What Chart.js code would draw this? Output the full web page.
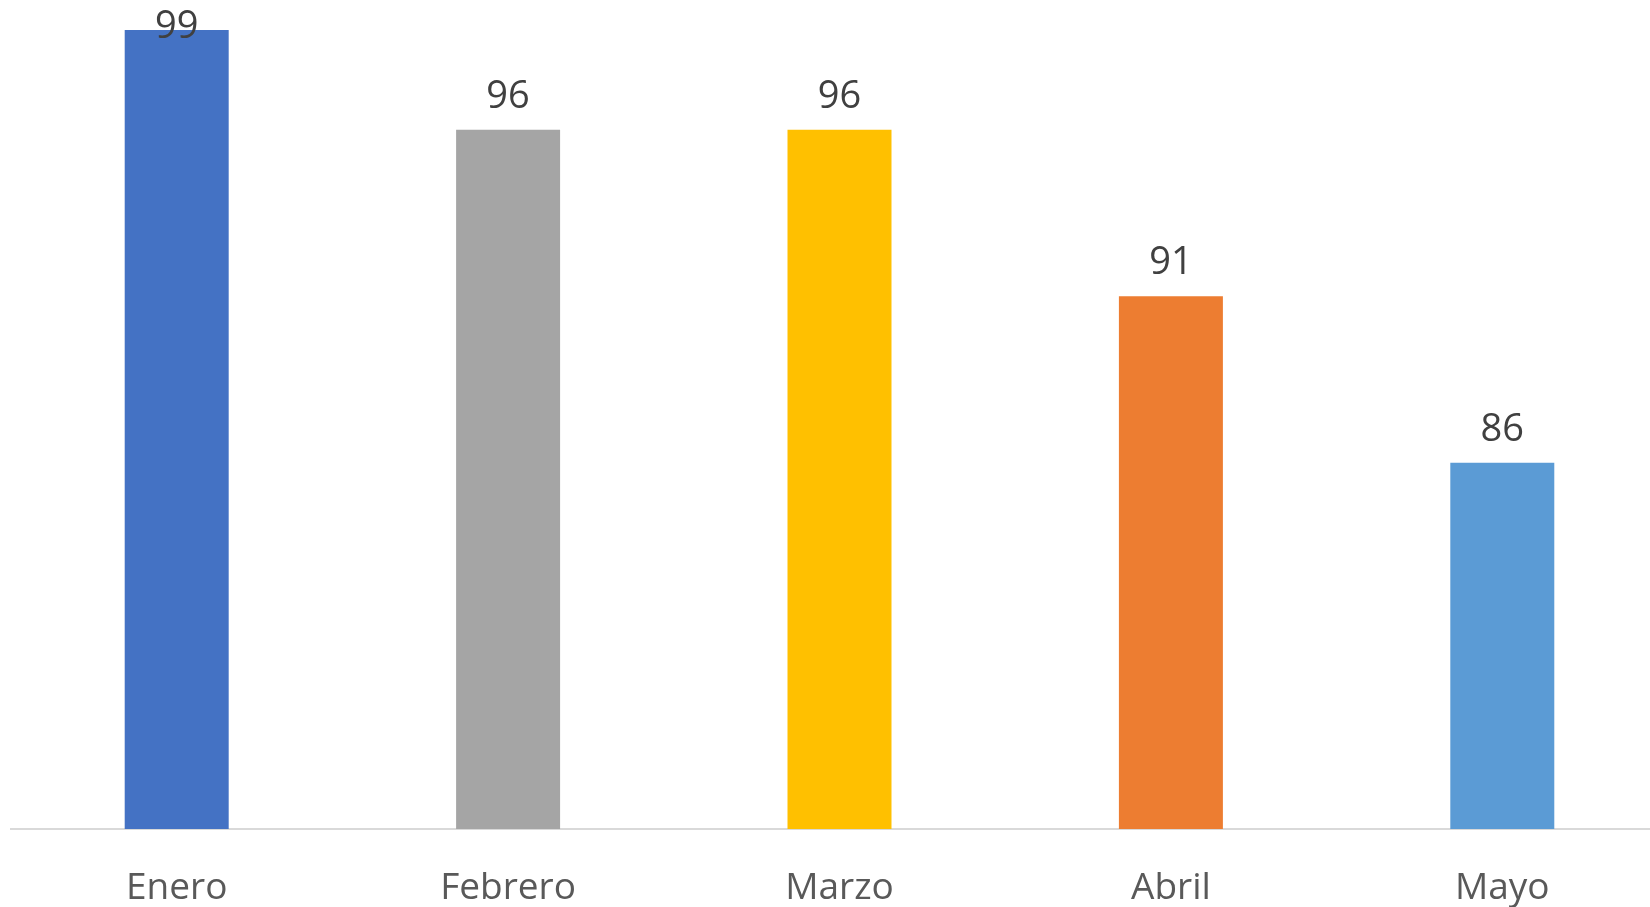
<!DOCTYPE html>
<html>
<head>
<meta charset="utf-8">
<script src="https://cdn.jsdelivr.net/npm/chart.js@4.4.0/dist/chart.umd.min.js"></script>
<style>
  html, body { margin: 0; padding: 0; background: #ffffff; overflow: hidden; width: 1650px; height: 907px; }
  #wrap { position: absolute; left: 0; top: 0; width: 1680px; height: 907px; }
</style>
</head>
<body>
<div id="wrap"><canvas id="c" width="1680" height="907"></canvas></div>
<script>
const categories = ['Enero', 'Febrero', 'Marzo', 'Abril', 'Mayo'];
const values = [99, 96, 96, 91, 86];
const barColors = ['#4472C4', '#A5A5A5', '#FFC000', '#ED7D31', '#5B9BD5'];
const yMin = 75;
const yMax = 99.9;

const FONT = '"Open Sans", "DejaVu Sans", sans-serif';

const valueLabels = {
  id: 'valueLabels',
  afterDatasetsDraw(chart) {
    const ctx = chart.ctx;
    const meta = chart.getDatasetMeta(0);
    ctx.save();
    ctx.font = '38px ' + FONT;
    ctx.fillStyle = '#404040';
    ctx.textAlign = 'center';
    ctx.textBaseline = 'alphabetic';
    meta.data.forEach((bar, i) => {
      const y = Math.max(bar.y - 22, 38);
      ctx.fillText(String(values[i]), bar.x, y);
    });
    ctx.restore();
  }
};

new Chart(document.getElementById('c'), {
  type: 'bar',
  data: {
    labels: categories,
    datasets: [{
      data: values,
      backgroundColor: barColors,
      borderWidth: 0,
      categoryPercentage: 1,
      barPercentage: 0.3138
    }]
  },
  options: {
    responsive: false,
    animation: false,
    layout: { padding: { left: 11, right: 12, top: 0, bottom: 0 } },
    plugins: { legend: { display: false }, tooltip: { enabled: false } },
    scales: {
      x: {
        grid: { display: false, drawTicks: false },
        border: { display: true, color: '#d9d9d9', width: 2 },
        ticks: { color: '#595959', font: { family: FONT, size: 37 }, padding: 37, maxRotation: 0 },
        afterFit(scale) { scale.height = 78; }
      },
      y: {
        display: false,
        min: yMin,
        max: yMax
      }
    }
  },
  plugins: [valueLabels]
});
</script>
</body>
</html>
